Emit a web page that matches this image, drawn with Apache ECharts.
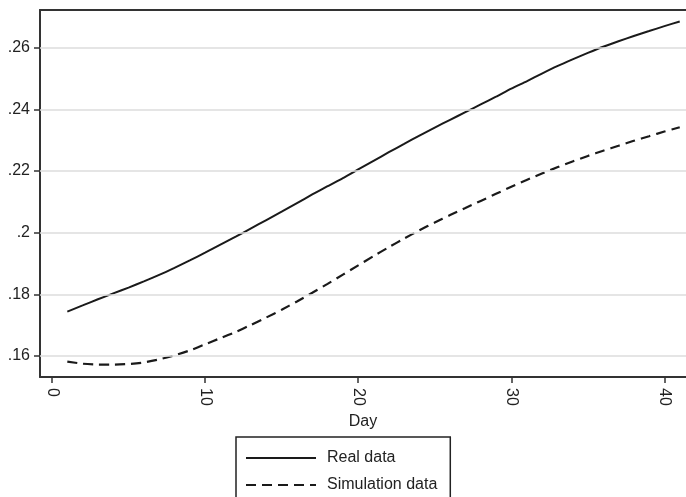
<!DOCTYPE html>
<html>
<head>
<meta charset="utf-8">
<script src="https://cdn.jsdelivr.net/npm/echarts@6/dist/echarts.min.js"></script>
<style>
html,body{margin:0;padding:0;background:#fff;}
#chart{width:686px;height:497px;}
</style>
</head>
<body>
<div id="chart"></div>
<script>
const days = [1,2,3,4,5,6,7,8,9,10,11,12,13,14,15,16,17,18,19,20,21,22,23,24,25,26,27,28,29,30,31,32,33,34,35,36,37,38,39,40,41];
const realData = [0.1744,0.1764,0.1784,0.1803,0.1822,0.1842,0.1863,0.1886,0.1910,0.1935,0.1961,0.1987,0.2014,0.2041,0.2068,0.2096,0.2124,0.2151,0.2177,0.2205,0.2233,0.2261,0.2288,0.2315,0.2341,0.2366,0.2391,0.2416,0.2441,0.2467,0.2491,0.2516,0.2540,0.2562,0.2583,0.2603,0.2621,0.2638,0.2654,0.2670,0.2685];
const simData = [0.1582,0.1575,0.1572,0.1572,0.1574,0.1579,0.1589,0.1602,0.1618,0.1638,0.1658,0.1678,0.1701,0.1725,0.1750,0.1777,0.1805,0.1834,0.1864,0.1894,0.1924,0.1953,0.1981,0.2008,0.2033,0.2057,0.2080,0.2103,0.2126,0.2149,0.2171,0.2192,0.2212,0.2231,0.2249,0.2266,0.2282,0.2298,0.2313,0.2328,0.2342];
const yTicks = [0.16,0.18,0.20,0.22,0.24,0.26];
const xTicks = [0,10,20,30,40];
const seriesNames = ['Real data','Simulation data'];

const FONT = 'Liberation Sans, Arial, sans-serif';
const chart = echarts.init(document.getElementById('chart'), null, {renderer:'canvas'});
const xMin = -0.784, xMax = 41.41, yMin = 0.15319, yMax = 0.27223;

chart.setOption({
  animation: false,
  backgroundColor: '#fff',
  grid: {left: 40, top: 10, right: 0, bottom: 120, containLabel: false},
  legend: {
    orient: 'vertical',
    left: 236, top: 437, height: 120,
    data: seriesNames,
    itemWidth: 70, itemHeight: 14, itemGap: 11,
    padding: [13, 13, 30, 9],
    borderColor: '#222', borderWidth: 1.5,
    itemStyle: {opacity: 0},
    textStyle: {fontFamily: FONT, fontSize: 16, color: '#222', padding: [0, 0, 0, 6]},
    selectedMode: false
  },
  xAxis: [{
    type: 'value', min: xMin, max: xMax, position: 'bottom',
    name: 'Day', nameLocation: 'middle', nameGap: 37,
    nameTextStyle: {fontFamily: FONT, fontSize: 16, color: '#222'},
    axisLine: {show: true, onZero: false, lineStyle: {color: '#333', width: 2}},
    axisTick: {show: true, length: 6, customValues: xTicks, lineStyle: {color: '#333', width: 1.5}},
    axisLabel: {customValues: xTicks, rotate: -90, margin: 11, fontFamily: FONT, fontSize: 16, color: '#222'},
    splitLine: {show: false}
  },{
    type: 'value', min: xMin, max: xMax, position: 'top',
    axisLine: {show: true, onZero: false, lineStyle: {color: '#333', width: 2}},
    axisTick: {show: false}, axisLabel: {show: false}, splitLine: {show: false}
  }],
  yAxis: {
    type: 'value', min: yMin, max: yMax,
    axisLine: {show: true, onZero: false, lineStyle: {color: '#333', width: 2}},
    axisTick: {show: true, length: 6, customValues: yTicks, lineStyle: {color: '#333', width: 1.5}},
    axisLabel: {customValues: yTicks, margin: 10, fontFamily: FONT, fontSize: 16, color: '#222',
      formatter: v => { let s = (+v.toFixed(2)).toString(); return s.replace(/^0/, ''); }},
    splitLine: {show: false}
  },
  series: [{
    type: 'line', name: '_grid', data: [], silent: true,
    markLine: {
      silent: true, symbol: ['none','none'], label: {show: false},
      lineStyle: {color: '#dcdcdc', width: 1.5, type: 'solid'},
      data: yTicks.map(v => ({yAxis: v}))
    }
  },{
    type: 'line', name: seriesNames[0], showSymbol: false, symbol: 'none', smooth: 0.2,
    data: days.map((d,i) => [d, realData[i]]),
    lineStyle: {color: '#1a1a1a', width: 2, type: 'solid'},
    itemStyle: {color: '#1a1a1a'}
  },{
    type: 'line', name: seriesNames[1], showSymbol: false, symbol: 'none', smooth: 0.2,
    data: days.map((d,i) => [d, simData[i]]),
    lineStyle: {color: '#1a1a1a', width: 2.2, type: [10, 6]},
    itemStyle: {color: '#1a1a1a'}
  }]
});
</script>
</body>
</html>
